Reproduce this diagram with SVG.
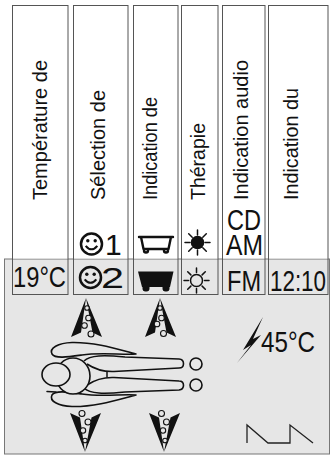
<svg xmlns="http://www.w3.org/2000/svg" width="330" height="456" viewBox="0 0 330 456">
  <style>
    .col { fill: #ffffff; }
    .box { fill: none; stroke: #555555; stroke-width: 1; }
    .lbl { font-family: "Liberation Sans", Arial, sans-serif; font-size: 20px; fill: #111111; }
    .seg { font-family: "Liberation Sans", Arial, sans-serif; font-size: 30px; fill: #111111; }
    .ink { fill: none; stroke: #111111; stroke-width: 2.4; stroke-linejoin: round; stroke-linecap: round; }
    .thin { fill: none; stroke: #111111; stroke-width: 1.5; stroke-linecap: round; }
    .fig { fill: #e6e6e6; stroke: #111111; stroke-width: 1.6; stroke-linejoin: round; }
    .bub { fill: #e6e6e6; stroke: #111111; stroke-width: 1.1; }
    .solid { fill: #111111; }
  </style>
  <defs>
    <!-- smiley face, centred on 0,0 -->
    <g id="smiley">
      <circle r="10.5" fill="none" stroke="#111111" stroke-width="2.5"/>
      <circle cx="-3.7" cy="-3.2" r="1.7" fill="#111111"/>
      <circle cx="3.7" cy="-3.2" r="1.7" fill="#111111"/>
      <path d="M-5.8,1.8 Q0,8.8 5.8,1.8" fill="none" stroke="#111111" stroke-width="2.1"/>
    </g>
    <!-- black side wedges of a massage jet, apex at 0,0, opening downward -->
    <path id="jet-sides" class="solid" d="M0,0 L-15,39 L-5,34.5 Z M0,0 L16,39 L6.5,34.5 Z"/>
  </defs>

  <rect width="330" height="456" fill="#ffffff"/>

  <!-- display panel -->
  <rect id="panel" x="4.5" y="259" width="325" height="195" fill="#e6e6e6" stroke="#777777" stroke-width="1"/>

  <g id="col-temperature">
    <rect class="col" x="12" y="5" width="56" height="253.5"/>
    <rect class="box" x="12.5" y="5.5" width="55.5" height="289"/>
    <text class="lbl" transform="translate(47,200) rotate(-90)" textLength="140" lengthAdjust="spacingAndGlyphs">Température de</text>
    <text class="seg" x="13" y="287" font-size="28" textLength="53" lengthAdjust="spacingAndGlyphs">19°C</text>
  </g>

  <g id="col-selection">
    <rect class="col" x="73" y="5" width="55" height="253.5"/>
    <rect class="box" x="73.5" y="5.5" width="54.5" height="289"/>
    <text class="lbl" transform="translate(105,200) rotate(-90)" textLength="110" lengthAdjust="spacingAndGlyphs">Sélection de</text>
    <use href="#smiley" x="91.5" y="244"/>
    <text class="seg" x="105" y="255" font-size="31">1</text>
    <use href="#smiley" x="90.5" y="277.5"/>
    <text class="seg" x="101" y="288" font-size="29" textLength="23" lengthAdjust="spacingAndGlyphs">2</text>
  </g>

  <g id="col-bath">
    <rect class="col" x="133" y="5" width="45" height="253.5"/>
    <rect class="box" x="133.5" y="5.5" width="44.5" height="289"/>
    <text class="lbl" transform="translate(157,200) rotate(-90)" textLength="103" lengthAdjust="spacingAndGlyphs">Indication de</text>
    <!-- empty tub -->
    <path class="ink" d="M139,237 L173,237 M141,237 L143.5,249 L168.5,249 L171,237 M144,249 v1.5 a2,2 0 0 0 4,0 v-1.5 M164,249 v1.5 a2,2 0 0 0 4,0 v-1.5"/>
    <!-- filled tub -->
    <path class="solid" d="M138,271.5 L173.5,271.5 L170,287 L142,287 Z M142.5,286 h7 v2.5 a3,3 0 0 1 -3,3 h-1 a3,3 0 0 1 -3,-3 Z M162.5,286 h7 v2.5 a3,3 0 0 1 -3,3 h-1 a3,3 0 0 1 -3,-3 Z"/>
  </g>

  <g id="col-therapy">
    <rect class="col" x="181" y="5" width="37" height="253.5"/>
    <rect class="box" x="181.5" y="5.5" width="36.5" height="289"/>
    <text class="lbl" transform="translate(205,200) rotate(-90)" textLength="77" lengthAdjust="spacingAndGlyphs">Thérapie</text>
    <!-- sun, filled -->
    <circle cx="197.5" cy="242.5" r="6.8" fill="#111111"/>
    <path class="thin" stroke-width="1.8" d="M197.5,230 v5 M197.5,250 v5 M185,242.5 h5 M205,242.5 h5 M188.7,233.7 l3.5,3.5 M202.8,247.8 l3.5,3.5 M206.3,233.7 l-3.5,3.5 M192.2,247.8 l-3.5,3.5"/>
    <!-- sun, outline -->
    <circle cx="196.5" cy="280.5" r="6" fill="none" stroke="#111111" stroke-width="1.5"/>
    <path class="thin" d="M196.5,268 v4.5 M196.5,288.5 v4.5 M184,280.5 h4.5 M204.5,280.5 h4.5 M187.7,271.7 l3.2,3.2 M202.1,286.1 l3.2,3.2 M205.3,271.7 l-3.2,3.2 M190.9,286.1 l-3.2,3.2"/>
  </g>

  <g id="col-audio">
    <rect class="col" x="222" y="5" width="43" height="253.5"/>
    <rect class="box" x="222.5" y="5.5" width="42.5" height="289"/>
    <text class="lbl" transform="translate(248,200) rotate(-90)" textLength="140" lengthAdjust="spacingAndGlyphs">Indication audio</text>
    <text class="seg" x="227" y="230" font-size="29" textLength="34" lengthAdjust="spacingAndGlyphs">CD</text>
    <text class="seg" x="226" y="255" font-size="29" textLength="37" lengthAdjust="spacingAndGlyphs">AM</text>
    <text class="seg" x="227" y="291" textLength="34" lengthAdjust="spacingAndGlyphs">FM</text>
  </g>

  <g id="col-clock">
    <rect class="col" x="268" y="5" width="60" height="253.5"/>
    <rect class="box" x="268.5" y="5.5" width="59.5" height="289"/>
    <text class="lbl" transform="translate(298,200) rotate(-90)" textLength="112" lengthAdjust="spacingAndGlyphs">Indication du</text>
    <text class="seg" x="270" y="291" font-size="29" textLength="56" lengthAdjust="spacingAndGlyphs">12:10</text>
  </g>

  <!-- massage jets -->
  <g id="jets">
    <g id="jet-top-left">
      <use href="#jet-sides" x="86" y="298"/>
      <circle class="bub" cx="87" cy="308" r="2.3"/>
      <circle class="bub" cx="88.5" cy="318" r="2.8"/>
      <circle class="bub" cx="84.5" cy="325.5" r="2.8"/>
      <circle class="bub" cx="91" cy="334" r="3"/>
    </g>
    <g id="jet-top-right">
      <use href="#jet-sides" x="160" y="298"/>
      <circle class="bub" cx="160" cy="308" r="2.3"/>
      <circle class="bub" cx="161.5" cy="318" r="2.8"/>
      <circle class="bub" cx="157" cy="324" r="2.8"/>
      <circle class="bub" cx="163.5" cy="333.5" r="3"/>
    </g>
    <g id="jet-bottom-left">
      <use href="#jet-sides" transform="translate(85,452) scale(1,-1)"/>
      <circle class="bub" cx="82" cy="413.5" r="3"/>
      <circle class="bub" cx="88" cy="422" r="3"/>
      <circle class="bub" cx="83" cy="430.5" r="2.7"/>
      <circle class="bub" cx="85" cy="440.5" r="2.3"/>
    </g>
    <g id="jet-bottom-right">
      <use href="#jet-sides" transform="translate(164,452) scale(1,-1)"/>
      <circle class="bub" cx="161.5" cy="413.5" r="3"/>
      <circle class="bub" cx="166.5" cy="422" r="3"/>
      <circle class="bub" cx="163" cy="430.5" r="2.7"/>
      <circle class="bub" cx="165" cy="440.5" r="2.3"/>
    </g>
  </g>

  <!-- reclining figure, head to the left -->
  <g id="figure">
    <path class="fig" d="M136,354 C120,350 96,342 72,342.5 C58,343 49,348 52,354 C55,359 68,357 82,355 C100,352 122,355 136,354 Z"/>
    <path class="fig" d="M136,395 C120,399 96,407 72,406.5 C58,406 49,401 52,395 C55,390 68,392 82,394 C100,397 122,394 136,395 Z"/>
    <path class="thin" d="M47,391.5 L56,392"/>
    <path class="fig" d="M84,361 C90,355 104,355 125,357 L179,359 C185,359.5 185,368 179,368 L114,371.5 C101,372 93,368 87,364"/>
    <path class="fig" d="M84,388 C90,394 104,394 125,392 L179,390 C185,389.5 185,381 179,381 L114,377.5 C101,377 93,381 87,385"/>
    <path class="thin" d="M107,372 L107,377"/>
    <ellipse class="fig" cx="73" cy="376" rx="17" ry="18"/>
    <ellipse class="fig" cx="56" cy="374.5" rx="14" ry="11.5"/>
    <circle class="fig" cx="196" cy="364" r="6"/>
    <circle class="fig" cx="196" cy="385" r="6"/>
  </g>

  <!-- heater indicator -->
  <g id="heater">
    <path class="solid" d="M263,317 L243,350 L251,345 L237,363 L261,335 L253,339 Z"/>
    <text class="seg" x="261" y="352" font-size="33" textLength="54" lengthAdjust="spacingAndGlyphs">45°C</text>
  </g>

  <!-- wave program indicator -->
  <path id="wave" d="M247,443 L247,425 L268,443 L290,443 L290,425 L313,443" fill="none" stroke="#222222" stroke-width="1.3"/>
</svg>
